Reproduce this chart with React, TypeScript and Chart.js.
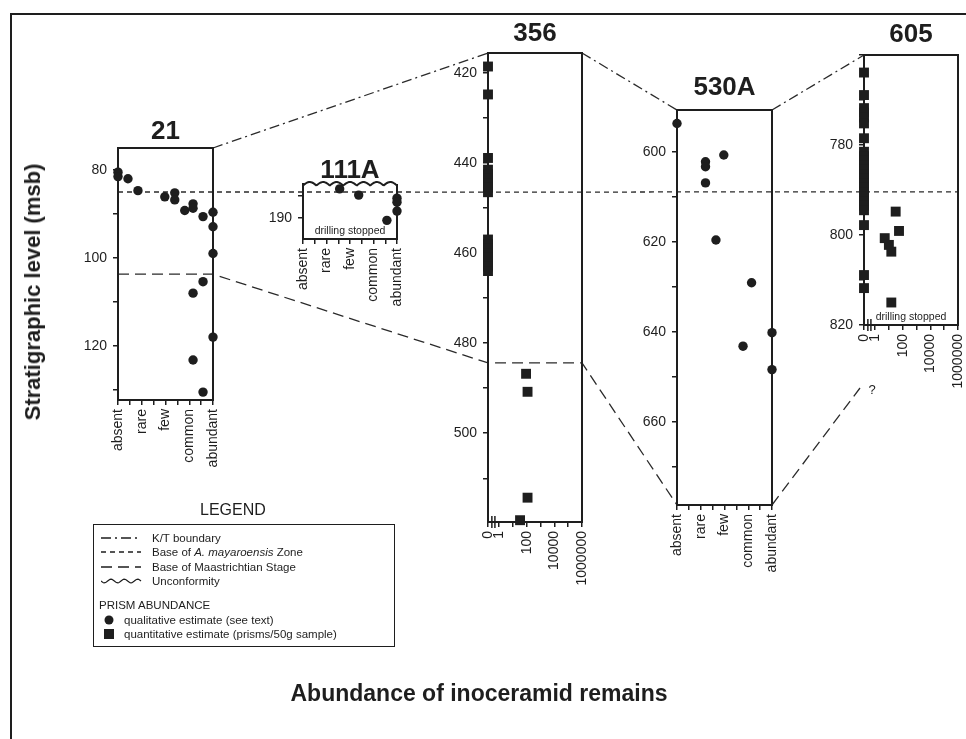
import React, { useEffect, useRef } from 'react';
import { Chart, registerables } from 'chart.js';

Chart.register(...registerables);

const FONT = '"Liberation Sans", Arial, Helvetica, sans-serif';
const INK = '#1e1e1e';

// ---------- data ----------
const CATEGORIES = ['absent', 'rare', 'few', 'common', 'abundant'];
const CAT_TICKS = [0, 0.5, 1, 1.5, 2, 2.5, 3, 3.5, 4];
const LOG_TICK_VALUES = [0, 1, 10, 100, 1000, 10000, 100000, 1000000];
const LOG_TICK_LABELS = ['0', '1', '', '100', '', '10000', '', '1000000'];

// Site 21 (qualitative)
const S21_ABUND = [0, 0, 0.42, 0.84, 1.97, 2.39, 2.39, 2.81, 3.16, 3.16, 3.58, 4, 4, 4, 3.58, 3.16, 4, 3.16, 3.58];
const S21_DEPTH = [80.5, 81.5, 82.0, 84.7, 86.1, 85.2, 86.8, 89.2, 87.7, 88.7, 90.6, 89.6, 92.9, 99.0, 105.4, 108.0, 118.0, 123.2, 130.5];

// Site 111A (qualitative)
const S111_ABUND = [1.56, 2.37, 3.57, 4, 4, 4];
const S111_DEPTH = [183.5, 184.9, 190.6, 185.6, 186.5, 188.5];

// Site 356 (prisms / 50 g)
const S356_COUNT = [0, 0, 0, 0, 0, 0, 0, 0, 0, 0, 0, 0, 0, 0, 0, 0, 0, 90, 115, 115, 33];
const S356_DEPTH = [418.6, 424.8, 438.9, 441.5, 442.5, 443.5, 444.5, 445.5, 446.5, 457, 458, 459, 460, 461, 462, 463, 464, 486.8, 490.8, 514.3, 519.3];

// Site 530A (qualitative)
const S530_ABUND = [0, 1.97, 1.2, 1.2, 1.2, 1.64, 3.14, 4, 2.78, 4];
const S530_DEPTH = [593.7, 600.7, 602.2, 603.3, 606.9, 619.6, 629.1, 640.2, 643.2, 648.4];

// Site 605 (prisms / 50 g)
const S605_COUNT = [0, 0, 0, 0, 0, 0, 0, 0, 0, 0, 0, 0, 0, 0, 0, 0, 0, 0, 0, 0, 0, 0, 0, 0, 31, 54, 5, 10, 15, 15];
const S605_DEPTH = [763.9, 768.9, 771.8, 772.8, 773.9, 775.2, 778.5, 781.5, 782.5, 783.5, 784.5, 785.5, 786.5, 787.5, 788.5, 789.5, 790.5, 791.5, 792.5, 793.5, 794.5, 797.8, 808.9, 811.8, 794.8, 799.1, 800.7, 802.2, 803.7, 815.0];

// boundaries (msb) per site, order: 21, 111A, 356, 530A, 605
const KT_DEPTH = [75, null, 415.6, 590.7, 760];
const MAYAROENSIS_DEPTH = [85.0, 184.2, 446.5, 608.9, 790.4];
const MAASTRICHTIAN_DEPTH = [103.7, null, 484.4, 678.5, 834];

const LEGEND_LINES = ['K/T boundary', 'Base of ', 'Base of Maastrichtian Stage', 'Unconformity'];

// ---------- layout ----------
const W_Y = 50;
const H_X = 80;
const PAD_R = 26;
const TITLE_H = 30;

type Panel = {
  title: string;
  kind: 'cat' | 'log';
  box: { l: number; t: number; r: number; b: number };
  dmin: number;
  dmax: number;
  step: number;
  labelled: number[];
  titlePad: number;
  xs: number[];
  ys: number[];
  unconformity?: boolean;
  drilling?: boolean;
};

const logU = (v: number) => (v <= 0 ? 0 : Math.log10(v) + 0.8);

const PANELS: Panel[] = [
  { title: '21', kind: 'cat', box: { l: 118, t: 148, r: 213, b: 400 }, dmin: 75, dmax: 132.3, step: 10, labelled: [80, 100, 120], titlePad: 1, xs: S21_ABUND, ys: S21_DEPTH },
  { title: '111A', kind: 'cat', box: { l: 303, t: 184, r: 397, b: 239 }, dmin: 182.4, dmax: 194.8, step: 5, labelled: [190], titlePad: -2, xs: S111_ABUND, ys: S111_DEPTH, unconformity: true, drilling: true },
  { title: '356', kind: 'log', box: { l: 488, t: 53, r: 582, b: 522 }, dmin: 415.6, dmax: 519.7, step: 10, labelled: [420, 440, 460, 480, 500], titlePad: 4, xs: S356_COUNT, ys: S356_DEPTH },
  { title: '530A', kind: 'cat', box: { l: 677, t: 110, r: 772, b: 505 }, dmin: 590.7, dmax: 678.5, step: 10, labelled: [600, 620, 640, 660], titlePad: 7, xs: S530_ABUND, ys: S530_DEPTH },
  { title: '605', kind: 'log', box: { l: 864, t: 55, r: 958, b: 325 }, dmin: 760, dmax: 820, step: 10, labelled: [780, 800, 820], titlePad: 5, xs: S605_COUNT, ys: S605_DEPTH, drilling: true },
];

const geom = (p: Panel) => ({
  x: p.box.l - W_Y,
  y: p.box.t - TITLE_H - p.titlePad,
  w: W_Y + (p.box.r - p.box.l) + PAD_R,
  h: TITLE_H + p.titlePad + (p.box.b - p.box.t) + H_X,
});

const tickFont = { family: FONT, size: 14 };

function panelPlugin(p: Panel) {
  return {
    id: 'panelBox',
    beforeDatasetsDraw(chart: any) {
      const { ctx, chartArea: a } = chart;
      ctx.save();
      ctx.strokeStyle = INK;
      ctx.lineWidth = 2;
      ctx.setLineDash([]);
      ctx.beginPath();
      if (p.unconformity) {
        ctx.moveTo(a.left, a.bottom);
        ctx.lineTo(a.left, a.top);
        const waves = 7;
        const wl = (a.right - a.left) / waves;
        for (let x = a.left; x <= a.right; x += 1) {
          ctx.lineTo(x, a.top + 1.5 - 3.5 * Math.abs(Math.sin((Math.PI * (x - a.left)) / wl)));
        }
        ctx.lineTo(a.right, a.top);
        ctx.lineTo(a.right, a.bottom);
        ctx.lineTo(a.left, a.bottom);
      } else {
        ctx.rect(a.left, a.top, a.right - a.left, a.bottom - a.top);
      }
      ctx.stroke();
      if (p.kind === 'log') {
        const xs = chart.scales.x;
        ctx.lineWidth = 1.5;
        [0.28, 0.5].forEach((u) => {
          const x = xs.getPixelForValue(u);
          ctx.beginPath();
          ctx.moveTo(x, a.bottom - 6);
          ctx.lineTo(x, a.bottom + 6);
          ctx.stroke();
        });
      }
      if (p.drilling) {
        ctx.font = `10.5px ${FONT}`;
        ctx.fillStyle = INK;
        ctx.textAlign = 'center';
        ctx.textBaseline = 'middle';
        ctx.fillText('drilling stopped', (a.left + a.right) / 2, a.bottom - 8);
      }
      ctx.restore();
    },
  };
}

function buildConfig(p: Panel): any {
  const isLog = p.kind === 'log';
  const points = p.xs.map((x, i) => ({ x: isLog ? logU(x) : x, y: p.ys[i] }));
  const xTicks = isLog ? LOG_TICK_VALUES.map(logU) : CAT_TICKS;
  return {
    type: 'scatter',
    data: {
      datasets: [
        {
          data: points,
          pointStyle: isLog ? 'rect' : 'circle',
          pointRadius: isLog ? 7 : 4.7,
          backgroundColor: INK,
          borderColor: INK,
          borderWidth: 0,
          clip: false,
        },
      ],
    },
    options: {
      responsive: false,
      animation: false,
      events: [],
      layout: { padding: { left: 0, right: PAD_R, top: 0, bottom: 0 } },
      plugins: {
        legend: { display: false },
        tooltip: { enabled: false },
        title: {
          display: true,
          fullSize: false,
          text: p.title,
          color: INK,
          font: { family: FONT, size: 26, weight: 'bold', lineHeight: TITLE_H / 26 },
          padding: { top: 0, bottom: p.titlePad },
        },
      },
      scales: {
        x: {
          type: 'linear',
          position: 'bottom',
          min: 0,
          max: isLog ? logU(1000000) : 4,
          afterFit: (s: any) => {
            s.height = H_X;
          },
          afterBuildTicks: (s: any) => {
            s.ticks = xTicks.map((v) => ({ value: v }));
          },
          ticks: {
            autoSkip: false,
            minRotation: 90,
            maxRotation: 90,
            padding: 4,
            color: INK,
            font: tickFont,
            callback: (v: number, i: number) => (isLog ? LOG_TICK_LABELS[i] : Number.isInteger(v) ? CATEGORIES[v] : ''),
          },
          grid: { display: true, drawOnChartArea: false, drawTicks: true, tickLength: 5, color: INK, lineWidth: 1.5 },
          border: { display: true, color: INK, width: 2 },
        },
        y: {
          type: 'linear',
          position: 'left',
          reverse: true,
          min: p.dmin,
          max: p.dmax,
          afterFit: (s: any) => {
            s.width = W_Y;
          },
          ticks: {
            stepSize: p.step,
            includeBounds: false,
            padding: 6,
            color: INK,
            font: tickFont,
            callback: (v: number) => (p.labelled.includes(v) ? String(v) : ''),
          },
          grid: { display: true, drawOnChartArea: false, drawTicks: true, tickLength: 5, color: INK, lineWidth: 1.5 },
          border: { display: true, color: INK, width: 2 },
        },
      },
    },
    plugins: [panelPlugin(p)],
  };
}

const DASH_KT = [10, 4, 2, 4];
const DASH_MAY = [5, 4];
const DASH_MAAS = [11, 6];

export default function App() {
  const overlayRef = useRef<HTMLCanvasElement | null>(null);
  const canvasRefs = useRef<(HTMLCanvasElement | null)[]>([]);

  useEffect(() => {
    const charts = PANELS.map((p, i) => new Chart(canvasRefs.current[i] as HTMLCanvasElement, buildConfig(p)));
    const geoms = PANELS.map(geom);
    const overlay = overlayRef.current;
    if (overlay) {
      const ctx = overlay.getContext('2d') as CanvasRenderingContext2D;
      ctx.clearRect(0, 0, overlay.width, overlay.height);
      // outer frame: top and left edges
      ctx.strokeStyle = INK;
      ctx.lineWidth = 2;
      ctx.beginPath();
      ctx.moveTo(11, 739);
      ctx.lineTo(11, 14);
      ctx.lineTo(966, 14);
      ctx.stroke();

      const edge = (i: number, side: 'l' | 'r', depth: number, dx = 0) => {
        const c: any = charts[i];
        const g = geoms[i];
        return {
          x: g.x + (side === 'l' ? c.chartArea.left : c.chartArea.right) + dx,
          y: g.y + c.scales.y.getPixelForValue(depth),
        };
      };
      const path = (pts: { x: number; y: number }[], dash: number[]) => {
        ctx.save();
        ctx.strokeStyle = '#2a2a2a';
        ctx.lineWidth = 1.3;
        ctx.setLineDash(dash);
        ctx.beginPath();
        pts.forEach((pt, k) => (k ? ctx.lineTo(pt.x, pt.y) : ctx.moveTo(pt.x, pt.y)));
        ctx.stroke();
        ctx.restore();
      };

      // K/T boundary
      const ktIdx = KT_DEPTH.map((d, i) => (d == null ? -1 : i)).filter((i) => i >= 0);
      for (let k = 0; k < ktIdx.length - 1; k++) {
        const a = ktIdx[k];
        const b = ktIdx[k + 1];
        path([edge(a, 'r', KT_DEPTH[a] as number), edge(b, 'l', KT_DEPTH[b] as number)], DASH_KT);
      }
      // Base of A. mayaroensis Zone
      const may: { x: number; y: number }[] = [];
      MAYAROENSIS_DEPTH.forEach((d, i) => {
        may.push(edge(i, 'l', d));
        may.push(edge(i, 'r', d));
      });
      path(may, DASH_MAY);
      // Base of Maastrichtian
      const M = MAASTRICHTIAN_DEPTH as number[];
      path([edge(0, 'l', M[0]), edge(0, 'r', M[0]), edge(2, 'l', M[2]), edge(2, 'r', M[2]), edge(3, 'l', M[3])], DASH_MAAS);
      const end = edge(4, 'l', M[4], -4);
      path([edge(3, 'r', M[3]), end], DASH_MAAS);
      ctx.fillStyle = INK;
      ctx.font = `13px ${FONT}`;
      ctx.textAlign = 'center';
      ctx.textBaseline = 'middle';
      ctx.fillText('?', end.x + 12, end.y + 2);
    }
    return () => charts.forEach((c) => c.destroy());
  }, []);

  const rowTop = [6, 20, 35, 49];
  const lineSym = (i: number) => {
    if (i === 3) {
      let d = 'M0 7';
      for (let x = 0; x <= 40; x += 1) d += ` L${x} ${7 + 1.8 * Math.sin((x / 40) * Math.PI * 6)}`;
      return <path d={d} stroke={INK} strokeWidth={1.2} fill="none" />;
    }
    const dash = [DASH_KT, DASH_MAY, DASH_MAAS][i].join(' ');
    return <line x1={0} y1={7} x2={40} y2={7} stroke={INK} strokeWidth={1.3} strokeDasharray={dash} />;
  };

  return (
    <div style={{ position: 'absolute', left: 0, top: 0, width: 966, height: 739, background: '#fff', fontFamily: FONT, color: INK, overflow: 'hidden' }}>
      <canvas ref={overlayRef} width={966} height={739} style={{ position: 'absolute', left: 0, top: 0 }} />
      {PANELS.map((p, i) => {
        const g = geom(p);
        return (
          <canvas
            key={p.title}
            ref={(el) => {
              canvasRefs.current[i] = el;
            }}
            width={g.w}
            height={g.h}
            style={{ position: 'absolute', left: g.x, top: g.y }}
          />
        );
      })}
      <div style={{ position: 'absolute', left: 33, top: 292, transform: 'translate(-50%, -50%) rotate(-90deg)', whiteSpace: 'nowrap', fontWeight: 'bold', fontSize: 22 }}>
        Stratigraphic level (msb)
      </div>
      <div style={{ position: 'absolute', left: 479, top: 693, transform: 'translate(-50%, -50%)', whiteSpace: 'nowrap', fontWeight: 'bold', fontSize: 23 }}>
        Abundance of inoceramid remains
      </div>
      <div style={{ position: 'absolute', left: 200, top: 500, fontSize: 16, lineHeight: '20px' }}>LEGEND</div>
      <div style={{ position: 'absolute', left: 93, top: 524, width: 302, height: 123, border: `1px solid ${INK}`, boxSizing: 'border-box', fontSize: 11.5 }}>
        {LEGEND_LINES.map((t, i) => (
          <div key={t + i} style={{ position: 'absolute', left: 0, top: rowTop[i], height: 14, width: '100%' }}>
            <svg width={42} height={14} style={{ position: 'absolute', left: 7, top: 0 }}>
              {lineSym(i)}
            </svg>
            <div style={{ position: 'absolute', left: 58, top: 0, lineHeight: '14px', whiteSpace: 'nowrap' }}>
              {i === 1 ? (
                <>
                  Base of <i>A. mayaroensis</i> Zone
                </>
              ) : (
                t
              )}
            </div>
          </div>
        ))}
        <div style={{ position: 'absolute', left: 5, top: 73, lineHeight: '14px', whiteSpace: 'nowrap' }}>PRISM ABUNDANCE</div>
        <div style={{ position: 'absolute', left: 0, top: 88, height: 14, width: '100%' }}>
          <svg width={16} height={14} style={{ position: 'absolute', left: 8, top: 0 }}>
            <circle cx={7} cy={7} r={4.5} fill={INK} />
          </svg>
          <div style={{ position: 'absolute', left: 30, top: 0, lineHeight: '14px', whiteSpace: 'nowrap' }}>qualitative estimate (see text)</div>
        </div>
        <div style={{ position: 'absolute', left: 0, top: 102, height: 14, width: '100%' }}>
          <svg width={16} height={14} style={{ position: 'absolute', left: 8, top: 0 }}>
            <rect x={2} y={2} width={10} height={10} fill={INK} />
          </svg>
          <div style={{ position: 'absolute', left: 30, top: 0, lineHeight: '14px', whiteSpace: 'nowrap' }}>quantitative estimate (prisms/50g sample)</div>
        </div>
      </div>
    </div>
  );
}
